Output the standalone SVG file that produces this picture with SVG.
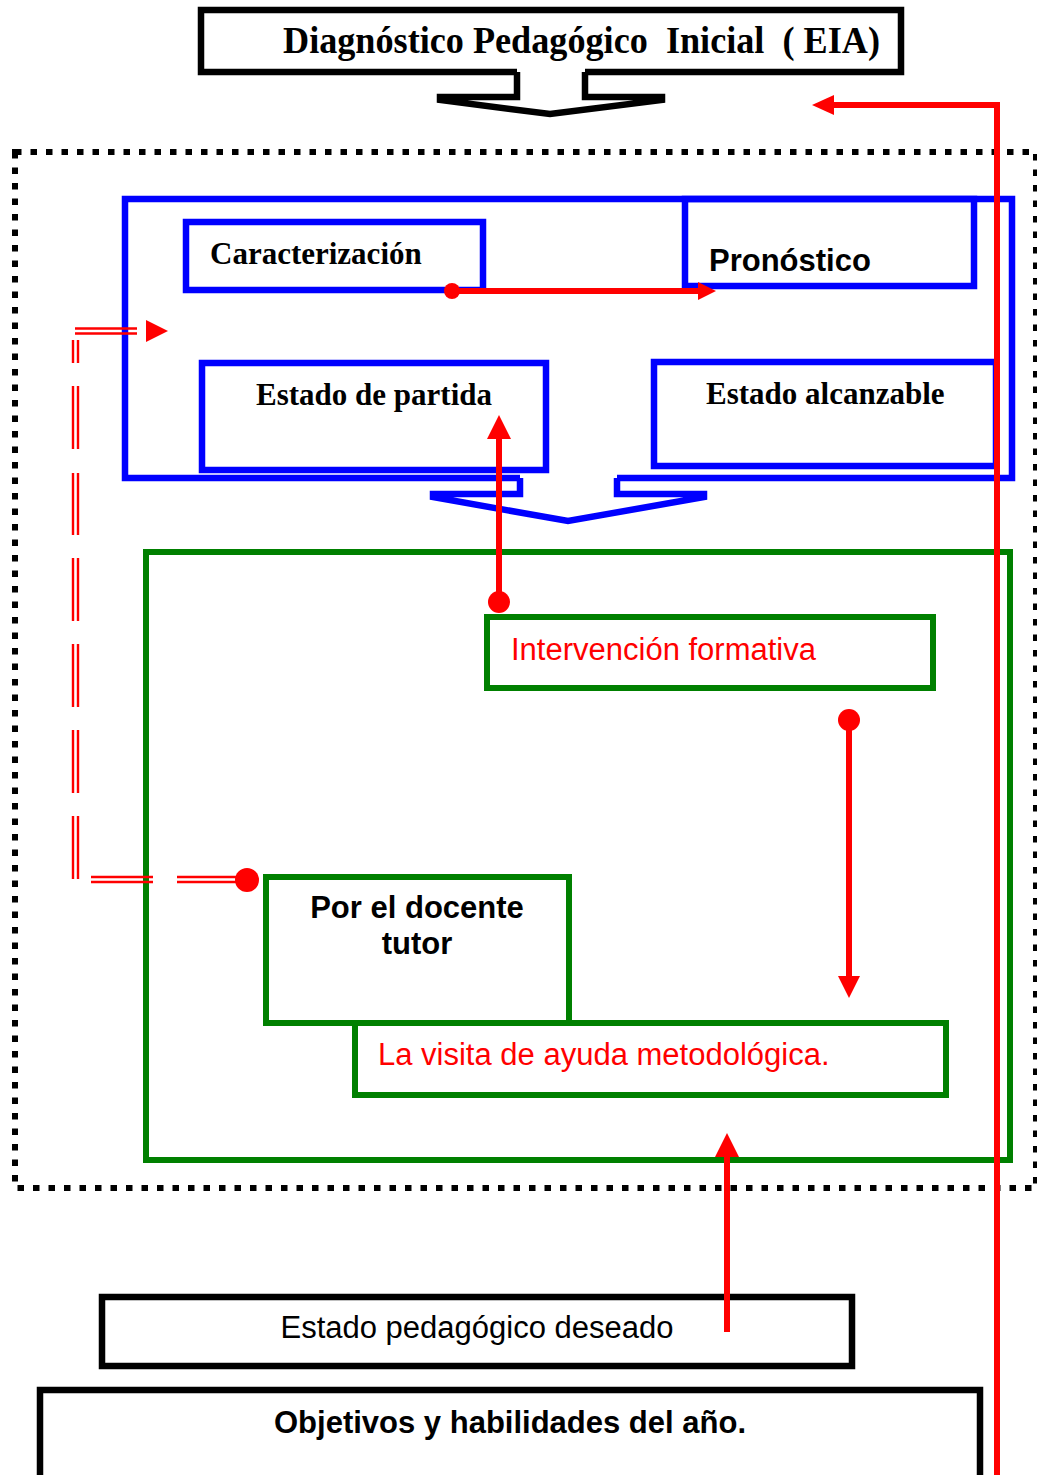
<svg xmlns="http://www.w3.org/2000/svg" width="1037" height="1475" viewBox="0 0 1037 1475">
<defs>
<style>
.blk{fill:none;stroke:#000;stroke-width:6.5}
.blu{fill:none;stroke:#0000FF;stroke-width:6.5}
.grn{fill:none;stroke:#008000;stroke-width:6}
.red{fill:none;stroke:#FF0000;stroke-width:6}
.thin{fill:none;stroke:#FF0000;stroke-width:2.4}
.rf{fill:#FF0000}
.serif{font-family:"Liberation Serif","Times New Roman",serif;font-weight:bold;font-size:31px;fill:#000}
.ttl{font-family:"Liberation Serif","Times New Roman",serif;font-weight:bold;font-size:38px;fill:#000}
.sansb{font-family:"Liberation Sans",Arial,sans-serif;font-weight:bold;font-size:31px;fill:#000}
.sans{font-family:"Liberation Sans",Arial,sans-serif;font-size:31px;fill:#000}
.sansr{font-family:"Liberation Sans",Arial,sans-serif;font-size:31px;fill:#FF0000}
</style>
</defs>
<rect width="1037" height="1475" fill="#fff"/>

<!-- outer dotted frame -->
<g id="frame">
<rect x="15" y="152" width="1021" height="1036" fill="none" stroke="#000" stroke-width="6" stroke-dasharray="6.5 9"/>
</g>

<!-- title -->
<g id="title">
<path class="blk" d="M517,72 H201 V10 H901 V72 H585" fill="#fff"/>
<path class="blk" d="M517,72 V97 H440 V100 L550,114 L662,100 V97 H585 V72"/>
<text class="ttl" x="283" y="53" textLength="597" lengthAdjust="spacingAndGlyphs" xml:space="preserve">Diagnóstico Pedagógico  Inicial  ( EIA)</text>
</g>

<!-- blue group -->
<g id="diagnostico">
<path class="blu" d="M520,478 H125 V199 H1012 V478 H617"/>
<path class="blu" d="M520,478 V494 H433 V497 L568,521 L704,497 V494 H617 V478"/>
</g>
<g id="caracterizacion">
<rect class="blu" x="186" y="222" width="297" height="68"/>
<text class="serif" x="210" y="264">Caracterización</text>
</g>
<g id="pronostico">
<rect class="blu" x="685" y="199" width="289" height="87"/>
<text class="sansb" x="709" y="271">Pronóstico</text>
</g>
<g id="estado-partida">
<rect class="blu" x="202" y="363" width="344" height="107"/>
<text class="serif" x="256" y="405">Estado de partida</text>
</g>
<g id="estado-alcanzable">
<rect class="blu" x="654" y="362" width="342" height="104"/>
<text class="serif" x="706" y="404">Estado alcanzable</text>
</g>

<!-- green group -->
<g id="intervencion-grupo">
<rect class="grn" x="146" y="552" width="864" height="608"/>
</g>
<g id="intervencion">
<rect class="grn" x="487" y="617" width="446" height="71"/>
<text class="sansr" x="511" y="660">Intervención formativa</text>
</g>
<g id="docente">
<rect class="grn" x="266" y="877" width="303" height="146"/>
<text class="sansb" x="417" y="918" text-anchor="middle">Por el docente</text>
<text class="sansb" x="417" y="954" text-anchor="middle">tutor</text>
</g>
<g id="visita">
<rect class="grn" x="355" y="1023" width="591" height="72"/>
<text class="sansr" x="378" y="1065">La visita de ayuda metodológica.</text>
</g>

<!-- bottom boxes -->
<g id="estado-deseado">
<rect class="blk" x="102" y="1297" width="750" height="69"/>
<text class="sans" x="477" y="1338" text-anchor="middle">Estado pedagógico deseado</text>
</g>
<g id="objetivos">
<rect class="blk" x="40" y="1390" width="940" height="90"/>
<text class="sansb" x="510" y="1433" text-anchor="middle">Objetivos y habilidades del año.</text>
</g>

<!-- connectors -->
<g id="connectors">
<line class="red" x1="452" y1="291" x2="700" y2="291"/>
<circle class="rf" cx="452" cy="291" r="8"/>
<polygon class="rf" points="716,291 698,282 698,300"/>
<line class="red" x1="499" y1="602" x2="499" y2="436" stroke-width="7"/>
<circle class="rf" cx="499" cy="602" r="11"/>
<polygon class="rf" points="499,415 487,439 511,439"/>
<line class="red" x1="849" y1="720" x2="849" y2="980" stroke-width="7"/>
<circle class="rf" cx="849" cy="720" r="11"/>
<polygon class="rf" points="849,998 838,976 860,976"/>
<line class="red" x1="727" y1="1332" x2="727" y2="1152" stroke-width="8"/>
<polygon class="rf" points="727,1133 715,1157 739,1157"/>
<path class="red" d="M997,1475 V105 H830" stroke-width="7"/>
<polygon class="rf" points="812,105 834,95 834,115"/>
<path class="thin" d="M91,877 H153 M177,877 H237 M91,882 H153 M177,882 H237"/>
<path class="thin" d="M73,340 V363 M73,386 V449 M73,473 V535 M73,558 V621 M73,644 V707 M73,730 V793 M73,816 V879 M78,340 V363 M78,386 V449 M78,473 V535 M78,558 V621 M78,644 V707 M78,730 V793 M78,816 V879"/>
<path class="thin" d="M75,328.5 H137 M75,333.5 H137"/>
<polygon class="rf" points="168,331 146,320 146,342"/>
<circle class="rf" cx="247" cy="880" r="12"/>
</g>
</svg>
